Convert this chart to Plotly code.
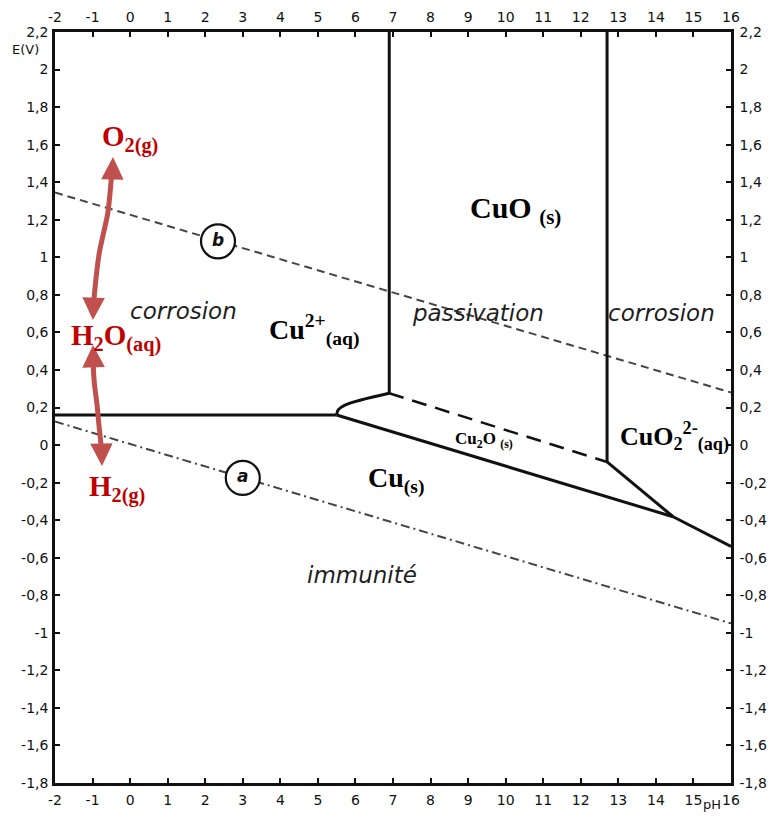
import plotly.graph_objects as go

# ---------------- data ----------------
x_ticks = [-2, -1, 0, 1, 2, 3, 4, 5, 6, 7, 8, 9, 10, 11, 12, 13, 14, 15, 16]
y_ticks = [2.2, 2.0, 1.8, 1.6, 1.4, 1.2, 1.0, 0.8, 0.6, 0.4, 0.2, 0.0,
           -0.2, -0.4, -0.6, -0.8, -1.0, -1.2, -1.4, -1.6, -1.8]
y_tick_text = ["2,2", "2", "1,8", "1,6", "1,4", "1,2", "1", "0,8", "0,6", "0,4", "0,2", "0",
               "-0,2", "-0,4", "-0,6", "-0,8", "-1", "-1,2", "-1,4", "-1,6", "-1,8"]

# water stability lines
line_b_ph = [-2, 16]
line_b_e = [1.345, 0.28]
line_a_ph = [-2, 16]
line_a_e = [0.125, -0.95]

# solid boundaries
cu_cu2_ph = [-2, 5.5]
cu_cu2_e = [0.16, 0.16]
cu2_cu2o_ph = [5.5, 5.54, 5.72, 6.9]
cu2_cu2o_e = [0.16, 0.187, 0.213, 0.276]
cu2_cuo_ph = [6.9, 6.9]
cu2_cuo_e = [0.276, 2.2]
cu_cu2o_ph = [5.5, 14.46]
cu_cu2o_e = [0.16, -0.382]
cuo_cuo2_ph = [12.7, 12.7]
cuo_cuo2_e = [-0.09, 2.2]
cu2o_cuo2_ph = [12.7, 14.46]
cu2o_cuo2_e = [-0.09, -0.382]
cu_cuo2_ph = [14.46, 16]
cu_cuo2_e = [-0.382, -0.54]
# dashed boundary
cu2o_cuo_ph = [6.9, 12.7]
cu2o_cuo_e = [0.276, -0.09]

# circled line labels
circle_ph = [2.34, 3.0]
circle_e = [1.085, -0.175]
circle_txt = ["b", "a"]

# red double arrows (curved bodies)
arrow1_ph = [-0.46, -0.48, -0.59, -0.72, -0.83, -0.94, -0.99]
arrow1_e = [1.50, 1.465, 1.241, 1.119, 1.012, 0.826, 0.70]
arrow2_ph = [-0.99, -0.96, -0.88, -0.83, -0.775, -0.75]
arrow2_e = [0.50, 0.347, 0.213, 0.107, 0.0, -0.08]
# arrow heads: tip and tail points
head_tip_ph = [-0.456, -0.99, -0.99, -0.749]
head_tip_e = [1.534, 0.666, 0.533, -0.112]
head_tail_ph = [-0.47, -0.975, -0.975, -0.76]
head_tail_e = [1.43, 0.76, 0.44, -0.02]

# species labels
species_txt = ["CuO <sub>(s)</sub>", "Cu<sup>2+</sup><sub>(aq)</sub>", "Cu<sub>(s)</sub>",
               "CuO<sub>2</sub><sup>2-</sup><sub>(aq)</sub>"]
species_ph = [10.25, 4.92, 7.08, 14.5]
species_e = [1.25, 0.613, -0.186, 0.043]
species_size = [30, 28, 28, 26]

small_txt = ["Cu<sub>2</sub>O <sub>(s)</sub>"]
small_ph = [9.42]
small_e = [0.027]

red_txt = ["O<sub>2(g)</sub>", "H<sub>2</sub>O<sub>(aq)</sub>", "H<sub>2(g)</sub>"]
red_ph = [-0.0, -0.376, -0.35]
red_e = [1.635, 0.575, -0.229]

region_txt = ["corrosion", "passivation", "corrosion", "immunité"]
region_ph = [1.43, 9.26, 14.16, 6.17]
region_e = [0.714, 0.703, 0.703, -0.692]

# ---------------- figure ----------------
fig = go.Figure()

BLK = "#111111"
ARROW = "#c0504d"
RED = "#c00000"

fig.add_trace(go.Scatter(x=line_b_ph, y=line_b_e, mode="lines",
                         line=dict(color="#444444", width=2, dash="8px,5px"), hoverinfo="skip"))
fig.add_trace(go.Scatter(x=line_a_ph, y=line_a_e, mode="lines",
                         line=dict(color="#444444", width=2, dash="9px,4px,2px,4px"), hoverinfo="skip"))

for px_, ey in [(cu_cu2_ph, cu_cu2_e), (cu2_cu2o_ph, cu2_cu2o_e), (cu2_cuo_ph, cu2_cuo_e),
                (cu_cu2o_ph, cu_cu2o_e), (cuo_cuo2_ph, cuo_cuo2_e), (cu2o_cuo2_ph, cu2o_cuo2_e),
                (cu_cuo2_ph, cu_cuo2_e)]:
    fig.add_trace(go.Scatter(x=px_, y=ey, mode="lines",
                             line=dict(color=BLK, width=3, shape="spline" if len(px_) > 2 else "linear"),
                             hoverinfo="skip"))

fig.add_trace(go.Scatter(x=cu2o_cuo_ph, y=cu2o_cuo_e, mode="lines",
                         line=dict(color=BLK, width=2.5, dash="15px,9px"), hoverinfo="skip"))

fig.add_trace(go.Scatter(x=circle_ph, y=circle_e, mode="markers+text", text=circle_txt,
                         textposition="middle center",
                         textfont=dict(family="DejaVu Sans", size=17, color=BLK, style="italic", weight="bold"),
                         marker=dict(symbol="circle", size=34, color="white",
                                     line=dict(color=BLK, width=2.2)), hoverinfo="skip"))

fig.add_trace(go.Scatter(x=arrow1_ph, y=arrow1_e, mode="lines",
                         line=dict(color=ARROW, width=5, shape="spline"), hoverinfo="skip"))
fig.add_trace(go.Scatter(x=arrow2_ph, y=arrow2_e, mode="lines",
                         line=dict(color=ARROW, width=5, shape="spline"), hoverinfo="skip"))

# dummy traces for secondary (mirrored label) axes
fig.add_trace(go.Scatter(x=[x_ticks[0]], y=[y_ticks[-1]], xaxis="x2", yaxis="y2", mode="markers",
                         marker=dict(opacity=0), hoverinfo="skip"))

annotations = []
for tx, ty, hx, hy in zip(head_tip_ph, head_tip_e, head_tail_ph, head_tail_e):
    annotations.append(dict(x=tx, y=ty, ax=hx, ay=hy, xref="x", yref="y", axref="x", ayref="y",
                            text="", showarrow=True, arrowhead=2, arrowsize=0.9, arrowwidth=5,
                            arrowcolor=ARROW, standoff=0, startstandoff=0))

for t, x, y, s in zip(species_txt, species_ph, species_e, species_size):
    annotations.append(dict(x=x, y=y, xref="x", yref="y", text="<b>" + t + "</b>", showarrow=False,
                            font=dict(family="Liberation Serif", size=s, color="#000000")))
for t, x, y in zip(small_txt, small_ph, small_e):
    annotations.append(dict(x=x, y=y, xref="x", yref="y", text="<b>" + t + "</b>", showarrow=False,
                            font=dict(family="Liberation Serif", size=17, color="#000000")))
for t, x, y in zip(red_txt, red_ph, red_e):
    annotations.append(dict(x=x, y=y, xref="x", yref="y", text="<b>" + t + "</b>", showarrow=False,
                            font=dict(family="Liberation Serif", size=29, color=RED)))
for t, x, y in zip(region_txt, region_ph, region_e):
    annotations.append(dict(x=x, y=y, xref="x", yref="y", text="<i>" + t + "</i>", showarrow=False,
                            font=dict(family="DejaVu Sans", size=23, color="#1e1e1e")))

annotations.append(dict(x=-0.043, y=0.977, xref="paper", yref="paper", text="E(V)", showarrow=False,
                        xanchor="center", yanchor="middle",
                        font=dict(family="DejaVu Sans", size=13, color=BLK)))
annotations.append(dict(x=0.972, y=-0.029, xref="paper", yref="paper", text="pH", showarrow=False,
                        xanchor="center", yanchor="middle",
                        font=dict(family="DejaVu Sans", size=13, color=BLK)))

tickfont = dict(family="DejaVu Sans", size=14, color=BLK)
axis_common = dict(showgrid=False, zeroline=False, showline=True, linecolor=BLK, linewidth=2.5,
                   ticks="inside", ticklen=5, tickwidth=1.5, tickcolor=BLK, tickfont=tickfont,
                   automargin=False)

fig.update_layout(
    width=779, height=821,
    margin=dict(l=47, r=56, t=24, b=46, autoexpand=False),
    paper_bgcolor="white", plot_bgcolor="white",
    showlegend=False,
    annotations=annotations,
    xaxis=dict(range=[-2, 16], tickvals=x_ticks, ticktext=[str(v) for v in x_ticks],
               ticklabelstandoff=2, **axis_common),
    yaxis=dict(range=[-1.8, 2.2], tickvals=y_ticks, ticktext=y_tick_text,
               ticklabelstandoff=1, **axis_common),
    xaxis2=dict(range=[-2, 16], tickvals=x_ticks, ticktext=[str(v) for v in x_ticks],
                overlaying="x", side="top", anchor="y", ticklabelstandoff=2, **axis_common),
    yaxis2=dict(range=[-1.8, 2.2], tickvals=y_ticks, ticktext=y_tick_text,
                overlaying="y", side="right", anchor="x", ticklabelstandoff=3, **axis_common),
)

fig.write_html("out.html")
